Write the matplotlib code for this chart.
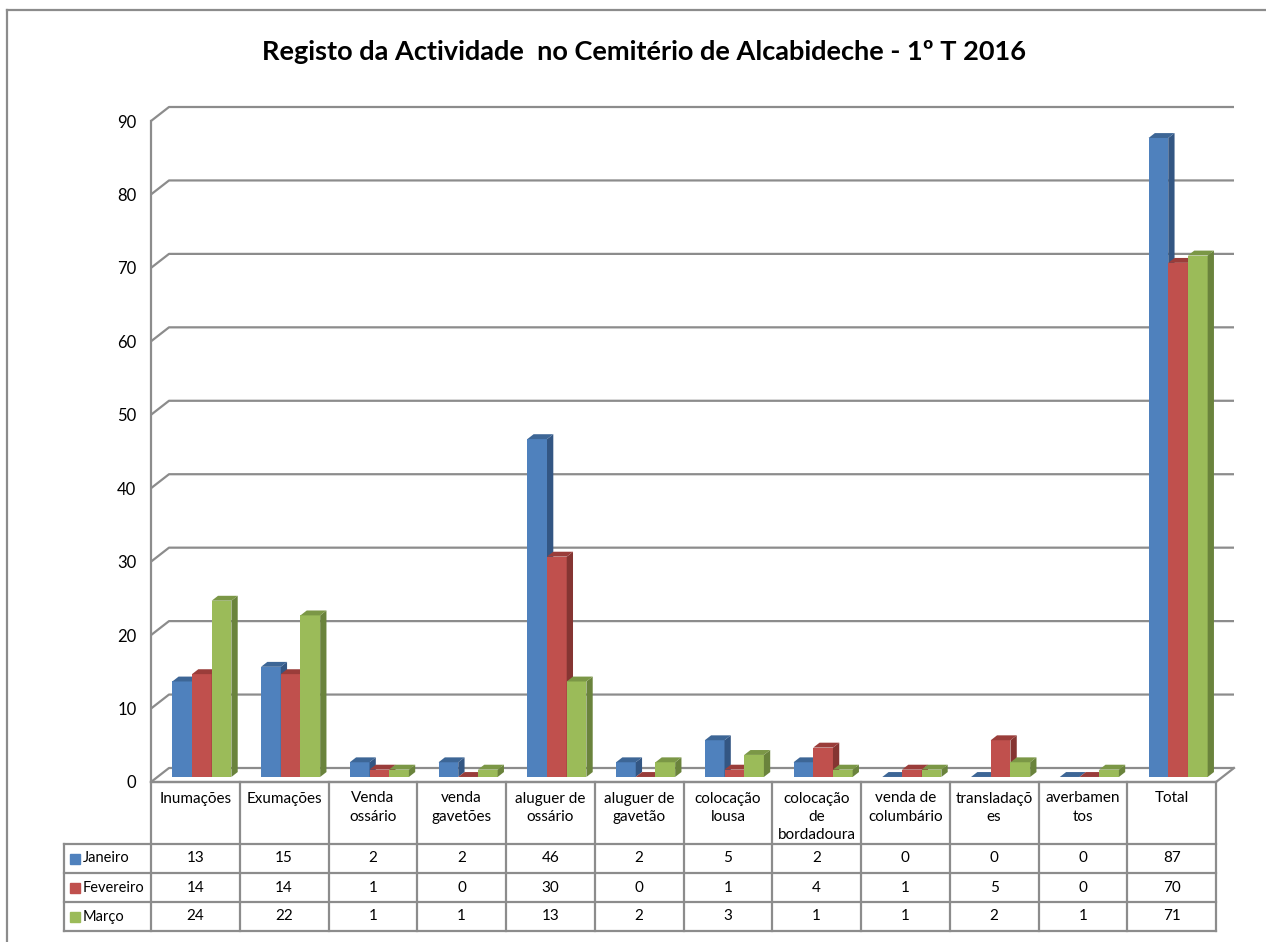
import matplotlib
matplotlib.use("Agg")
import matplotlib.pyplot as plt
from matplotlib.patches import Polygon
from matplotlib.lines import Line2D

plt.rcParams['font.family'] = ['Lato', 'DejaVu Sans']

title = "Registo da Actividade  no Cemitério de Alcabideche - 1º T 2016"
categories = ["Inumações", "Exumações", "Venda\nossário", "venda\ngavetões",
              "aluguer de\nossário", "aluguer de\ngavetão", "colocação\nlousa",
              "colocação\nde\nbordadoura", "venda de\ncolumbário",
              "transladaçõ\nes", "averbamen\ntos", "Total"]
series_names = ["Janeiro", "Fevereiro", "Março"]
janeiro = [13, 15, 2, 2, 46, 2, 5, 2, 0, 0, 0, 87]
fevereiro = [14, 14, 1, 0, 30, 0, 1, 4, 1, 5, 0, 70]
marco = [24, 22, 1, 1, 13, 2, 3, 1, 1, 2, 1, 71]
series_values = [janeiro, fevereiro, marco]
y_ticks = [0, 10, 20, 30, 40, 50, 60, 70, 80, 90]

front_colors = ["#4F81BD", "#C0504D", "#9BBB59"]
top_colors = ["#3D6696", "#9A3D3A", "#7B9746"]
side_colors = ["#335683", "#853532", "#6A833C"]
grid_color = "#8C8C8C"

W, H = 1266, 942
fig = plt.figure(figsize=(W / 100, H / 100), dpi=100)

# main plot (front plane)
x0, x1, y0, y1 = 151, 1216, 782, 121
ax = fig.add_axes([x0 / W, (H - y0) / H, (x1 - x0) / W, (y0 - y1) / H])
n = len(categories)
ymax = y_ticks[-1]
ax.set_xlim(0, n)
ax.set_ylim(0, ymax)
for s in ["top", "right", "bottom"]:
    ax.spines[s].set_visible(False)
ax.spines["left"].set_color(grid_color)
ax.spines["left"].set_linewidth(1.6)
ax.set_xticks([])
ax.set_yticks(y_ticks)
ax.tick_params(axis="y", length=0, pad=10.5, labelsize=12, colors="black")
ax.patch.set_alpha(0)

px_x = (x1 - x0) / n
px_y = (y0 - y1) / ymax
DX = 18 / px_x
DY = 14 / px_y

# gridlines on side wall and back wall
for v in y_ticks:
    ax.plot([0, DX, n + DX], [v, v + DY, v + DY], color=grid_color, lw=1.6,
            clip_on=False, zorder=1, solid_capstyle="butt")
# floor
ax.plot([0, n, n + DX], [0, 0, DY], color=grid_color, lw=1.6, clip_on=False, zorder=1)

# bars
f0, f1 = 0.36, 0.71
w = 0.222
z = 3
for i in range(n):
    for s, vals in enumerate(series_values):
        v = vals[i]
        xl = i + 0.5 - 1.5 * w + s * w
        ax.bar(xl + f0 * DX, v, width=w, bottom=f0 * DY, align="edge",
               color=front_colors[s], clip_on=False, zorder=z, linewidth=0)
        top = [(xl + f0 * DX, v + f0 * DY), (xl + w + f0 * DX, v + f0 * DY),
               (xl + w + f1 * DX, v + f1 * DY), (xl + f1 * DX, v + f1 * DY)]
        side = [(xl + w + f0 * DX, f0 * DY), (xl + w + f1 * DX, f1 * DY),
                (xl + w + f1 * DX, v + f1 * DY), (xl + w + f0 * DX, v + f0 * DY)]
        ax.add_patch(Polygon(side, closed=True, facecolor=side_colors[s],
                             edgecolor="none", clip_on=False, zorder=z))
        ax.add_patch(Polygon(top, closed=True, facecolor=top_colors[s],
                             edgecolor="none", clip_on=False, zorder=z + 0.5))
        z += 1

# data table
tleft, tbottom = 64, 931
hdr_h, row_h = 62, 29
tab_h = hdr_h + row_h * 3
tax = fig.add_axes([tleft / W, (H - tbottom) / H, (x1 - tleft) / W, tab_h / H])
leg_w = (x0 - tleft) / px_x
tax.set_xlim(-leg_w, n)
tax.set_ylim(tab_h, 0)
tax.axis("off")

lc = dict(color=grid_color, lw=1.6, clip_on=False, solid_capstyle="projecting")
tax.plot([0, n], [0, 0], **lc)
for k in range(4):
    yy = hdr_h + k * row_h
    tax.plot([-leg_w, n], [yy, yy], **lc)
tax.plot([-leg_w, -leg_w], [hdr_h, tab_h], **lc)
for c in range(n + 1):
    tax.plot([c, c], [0, tab_h], **lc)

for i, cat in enumerate(categories):
    tax.text(i + 0.5, 9.5, cat, ha="center", va="top", fontsize=11,
             linespacing=1.4)
for r, (name, vals) in enumerate(zip(series_names, series_values)):
    yc = hdr_h + r * row_h + row_h / 2
    for i, v in enumerate(vals):
        tax.text(i + 0.5, yc, str(v), ha="center", va="center", fontsize=11)
    tax.plot([-leg_w + 10.5 / px_x], [yc], marker="s", markersize=6.5,
             color=front_colors[r], linestyle="none", clip_on=False)
    tax.text(-leg_w + 19 / px_x, yc, name, ha="left", va="center", fontsize=10.5)

# title
fig.text(644 / W, 1 - 52 / H, title, ha="center", va="center",
         fontsize=19.5, fontweight="bold")

# chart border
fig.add_artist(Line2D([7 / W, 7 / W], [0, 1 - 10 / H], color=grid_color, lw=1.6))
fig.add_artist(Line2D([7 / W, 1], [1 - 10 / H, 1 - 10 / H], color=grid_color, lw=1.6))

fig.savefig("out.png", dpi=100)
